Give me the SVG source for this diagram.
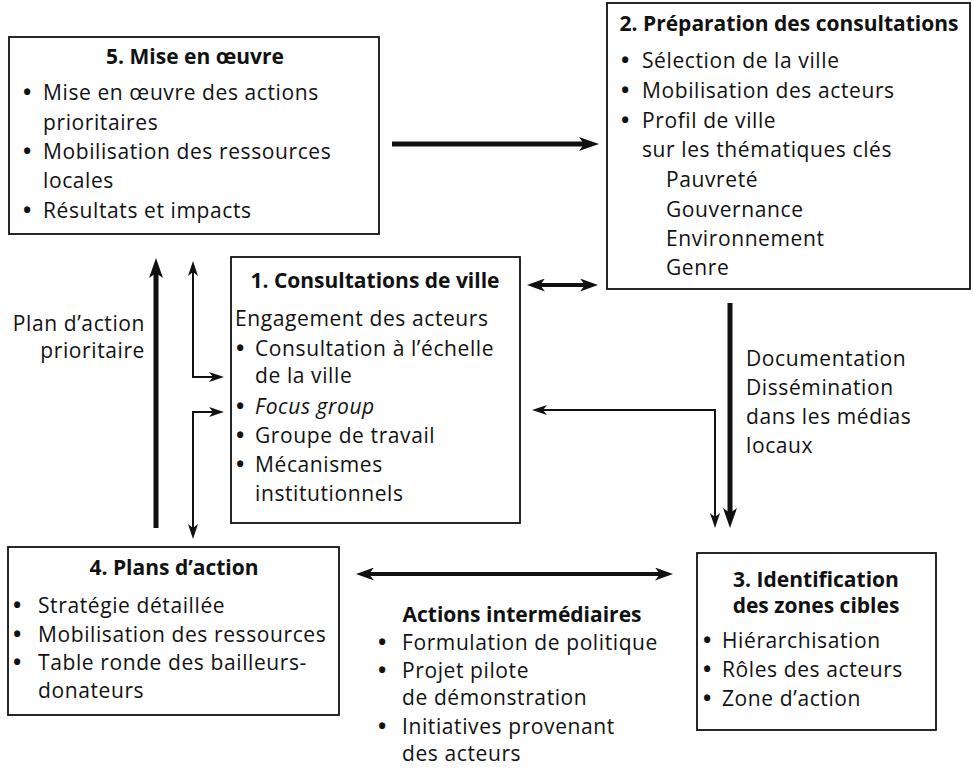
<svg xmlns="http://www.w3.org/2000/svg" width="973" height="773" viewBox="0 0 973 773">
<style>
text{font-family:"Open Sans","Noto Sans","DejaVu Sans",sans-serif;font-size:21px;fill:#111;letter-spacing:0.6px}
.t{font-weight:bold;letter-spacing:0;text-anchor:middle}
.b{font-weight:bold;font-size:22px;letter-spacing:0}
.it{font-style:italic}
.r{text-anchor:end}
.box{fill:#fff;stroke:#111;stroke-width:1.8}
.thick{fill:none;stroke:#111;stroke-width:5}
.med{fill:none;stroke:#111;stroke-width:4}
.thin{fill:none;stroke:#111;stroke-width:2}
</style>
<defs>
<marker id="hk" markerUnits="userSpaceOnUse" markerWidth="20" markerHeight="14" refX="9" refY="7" orient="auto-start-reverse" viewBox="0 0 20 14">
<path d="M0,0 L20,7 L0,14 L5,7 Z" fill="#111"/>
</marker>
<marker id="hm" markerUnits="userSpaceOnUse" markerWidth="18" markerHeight="13" refX="8" refY="6.5" orient="auto-start-reverse" viewBox="0 0 18 13">
<path d="M0,0 L18,6.5 L0,13 L5,6.5 Z" fill="#111"/>
</marker>
<marker id="ht" markerUnits="userSpaceOnUse" markerWidth="15" markerHeight="10" refX="7" refY="5" orient="auto-start-reverse" viewBox="0 0 15 10">
<path d="M0,0 L15,5 L0,10 L4,5 Z" fill="#111"/>
</marker>
</defs>
<rect width="973" height="773" fill="#fff"/>

<g id="connectors">
<line class="thick" x1="392" y1="144" x2="588" y2="144" marker-end="url(#hk)"/>
<line class="thick" x1="156" y1="528" x2="156" y2="269" marker-end="url(#hk)"/>
<path class="thin" d="M193,269 L193,377 L216,377" marker-start="url(#ht)" marker-end="url(#ht)"/>
<path class="thin" d="M193,531 L193,412 L216,412" marker-start="url(#ht)" marker-end="url(#ht)"/>
<line class="med" x1="537" y1="285" x2="588" y2="285" marker-start="url(#hm)" marker-end="url(#hm)"/>
<line class="thick" x1="730" y1="303" x2="730" y2="517" marker-end="url(#hk)"/>
<path class="thin" d="M540,410 L715,410 L715,520" marker-start="url(#ht)" marker-end="url(#ht)"/>
<line class="med" x1="366" y1="574" x2="663" y2="574" marker-start="url(#hm)" marker-end="url(#hm)"/>
</g>

<g id="node5">
<rect class="box" x="9" y="37" width="370" height="197"/>
<text class="t" x="195" y="64">5. Mise en œuvre</text>
<text class="b" x="23" y="100">•</text><text x="43" y="100">Mise en œuvre des actions</text>
<text x="43" y="130">prioritaires</text>
<text class="b" x="23" y="159">•</text><text x="43" y="159">Mobilisation des ressources</text>
<text x="43" y="188">locales</text>
<text class="b" x="23" y="218">•</text><text x="43" y="218">Résultats et impacts</text>
</g>

<g id="node2">
<rect class="box" x="607" y="3" width="363" height="286"/>
<text class="t" x="789" y="31">2. Préparation des consultations</text>
<text class="b" x="621" y="68">•</text><text x="642" y="68">Sélection de la ville</text>
<text class="b" x="621" y="98">•</text><text x="642" y="98">Mobilisation des acteurs</text>
<text class="b" x="621" y="128">•</text><text x="642" y="128">Profil de ville</text>
<text x="642" y="157">sur les thématiques clés</text>
<text x="666" y="187">Pauvreté</text>
<text x="666" y="217">Gouvernance</text>
<text x="666" y="246">Environnement</text>
<text x="666" y="275">Genre</text>
</g>

<g id="node1">
<rect class="box" x="231" y="257" width="289" height="266"/>
<text class="t" x="375" y="288">1. Consultations de ville</text>
<text x="235" y="326">Engagement des acteurs</text>
<text class="b" x="236" y="356">•</text><text x="255" y="356">Consultation à l’échelle</text>
<text x="255" y="383">de la ville</text>
<text class="b" x="236" y="414">•</text><text class="it" x="255" y="414">Focus group</text>
<text class="b" x="236" y="443">•</text><text x="255" y="443">Groupe de travail</text>
<text class="b" x="236" y="472">•</text><text x="255" y="472">Mécanismes</text>
<text x="255" y="501">institutionnels</text>
</g>

<g id="label-plan">
<text class="r" x="145" y="331">Plan d’action</text>
<text class="r" x="145" y="358">prioritaire</text>
</g>

<g id="label-doc">
<text x="746" y="366">Documentation</text>
<text x="746" y="395">Dissémination</text>
<text x="746" y="424">dans les médias</text>
<text x="746" y="453">locaux</text>
</g>

<g id="node4">
<rect class="box" x="8" y="547" width="331" height="168"/>
<text class="t" x="174" y="575">4. Plans d’action</text>
<text class="b" x="13" y="613">•</text><text x="38" y="613">Stratégie détaillée</text>
<text class="b" x="13" y="642">•</text><text x="38" y="642">Mobilisation des ressources</text>
<text class="b" x="13" y="670">•</text><text x="38" y="670">Table ronde des bailleurs-</text>
<text x="38" y="698">donateurs</text>
</g>

<g id="node-intermediaires">
<text class="t" x="522" y="622">Actions intermédiaires</text>
<text class="b" x="378" y="650">•</text><text x="402" y="650">Formulation de politique</text>
<text class="b" x="378" y="678">•</text><text x="402" y="678">Projet pilote</text>
<text x="402" y="705">de démonstration</text>
<text class="b" x="378" y="734">•</text><text x="402" y="734">Initiatives provenant</text>
<text x="402" y="761">des acteurs</text>
</g>

<g id="node3">
<rect class="box" x="697" y="553" width="239" height="177"/>
<text class="t" x="816" y="587">3. Identification</text>
<text class="t" x="816" y="613">des zones cibles</text>
<text class="b" x="703" y="648">•</text><text x="722" y="648">Hiérarchisation</text>
<text class="b" x="703" y="677">•</text><text x="722" y="677">Rôles des acteurs</text>
<text class="b" x="703" y="706">•</text><text x="722" y="706">Zone d’action</text>
</g>
</svg>
